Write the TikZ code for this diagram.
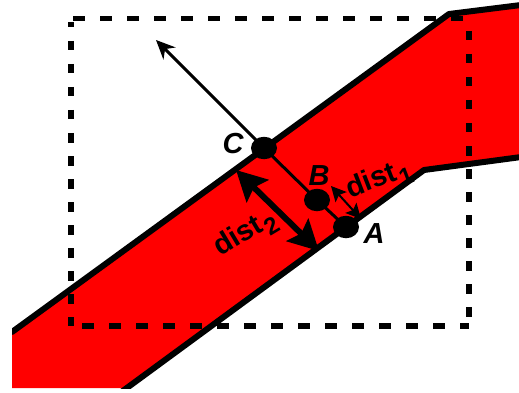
\documentclass[tikz,border=0pt]{standalone}
\usepackage{fontspec}
\setmainfont{Liberation Sans}
\usetikzlibrary{shapes.geometric,arrows.meta}
\definecolor{bandred}{RGB}{255,0,0}
\newcommand{\subdig}[1]{\kern2pt\raisebox{-8pt}{\fontsize{24}{24}\selectfont #1}}
\tikzset{
  pt/.style={ellipse,fill=black,draw=none,minimum width=26pt,minimum height=22.5pt,inner sep=0pt},
  lab/.style={font=\fontsize{29}{29}\selectfont\bfseries\itshape,inner sep=0pt},
  dlab/.style={font=\fontsize{29}{29}\selectfont\bfseries,inner sep=0pt},
  edge/.style={line width=6pt,line cap=round,line join=round},
  hdash/.style={line width=5.5pt,dash pattern=on 11.5pt off 15.5pt},
  vdash/.style={line width=6pt,dash pattern=on 9.5pt off 13.5pt},
}
\begin{document}
\begin{tikzpicture}[x=1pt,y=-1pt]
\useasboundingbox (0,0) rectangle (519,393);
\fill[white] (0,0) rectangle (519,393);
\fill[bandred] (12,332) -- (449,14) -- (519,5) -- (519,157) -- (424,170) -- (128,388) -- (12,388) -- cycle;
\begin{scope}
\clip (12,0) rectangle (519,388);
\draw[edge] (12,332) -- (449,14) -- (525,4.5);
\draw[edge] (120,393) -- (424,170) -- (525,156.5);
\end{scope}
\draw[hdash] (73,18.5) -- (469,18.5);
\draw[hdash,dash phase=15] (70,326) -- (469,326);
\draw[vdash,dash phase=4] (71,22) -- (71,326);
\draw[vdash,dash phase=10] (469,18) -- (469,326);
\node[pt] (A) at (346,227) {};
\node[pt] (B) at (317,200) {};
\node[pt] (C) at (264,148) {};
\coordinate (tip) at (156,40);
\draw[line width=3pt] (A.center) -- (B.center) -- (C.center);
\draw[line width=3pt,-{Stealth[length=19pt,width=17pt]}] (C.center) -- (tip);
\coordinate (d2a) at (236,170);
\coordinate (d2b) at (319,251);
\draw[line width=6pt,{Stealth[length=30pt,width=31pt,inset=5pt]}-{Stealth[length=30pt,width=31pt,inset=5pt]}] (d2a) -- (d2b);
\coordinate (d1a) at (331,186);
\coordinate (d1b) at (361,219);
\draw[line width=2pt,{Stealth[length=15pt,width=15pt,inset=3pt]}-{Stealth[length=15pt,width=15pt,inset=3pt]}] (d1a) -- (d1b);
\node[lab] (lc) at (233,144) {C};
\node[lab] (lb) at (319,176) {B};
\node[lab] (la) at (374,234) {A};
\node[dlab,rotate=21] (d1) at (379,180) {dist\subdig{1}};
\node[dlab,rotate=31] (d2) at (246,234) {dist\subdig{2}};
\end{tikzpicture}
\end{document}
